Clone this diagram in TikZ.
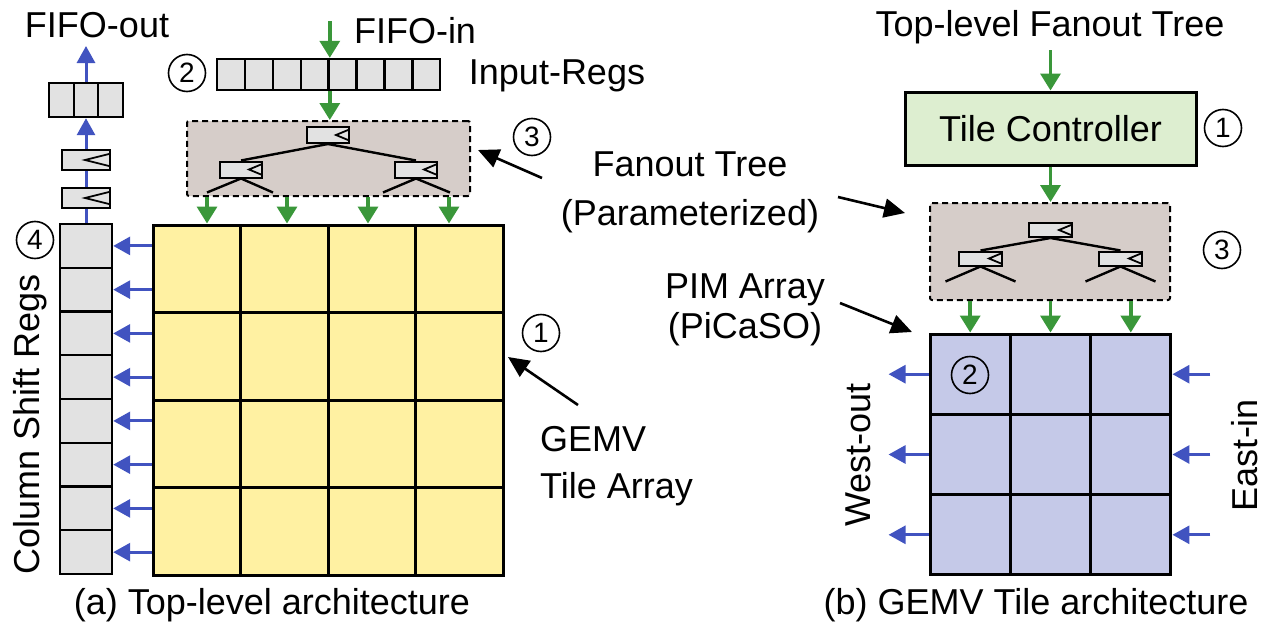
\documentclass[tikz,border=0pt]{standalone}
\usepackage{fontspec}
\setmainfont{Liberation Sans}
\usetikzlibrary{arrows.meta,calc}

\definecolor{tileyellow}{HTML}{FFF1A2}
\definecolor{reggray}{HTML}{E2E2E2}
\definecolor{fanbrown}{HTML}{D6CDC9}
\definecolor{sigGreen}{HTML}{3A973A}
\definecolor{sigBlue}{HTML}{4153C0}
\definecolor{pimblue}{HTML}{C5C9E8}
\definecolor{ctrlgreen}{HTML}{DDEED0}

\tikzset{
  lbl/.style={font=\fontsize{36}{43}\selectfont, inner sep=0pt},
  num/.style={circle, draw, line width=1.6pt, minimum size=37pt, inner sep=0pt,
    font=\fontsize{28}{28}\selectfont},
  reg/.style={draw=black, line width=2.4pt, fill=reggray, inner sep=0pt},
  flop/.style n args={4}{reg, line width=2pt, minimum width=#1, minimum height=#2,
    path picture={\draw[line width=1.8pt]
      ([xshift=-1pt,yshift=#4]path picture bounding box.east) --
      ([xshift=-#3]path picture bounding box.east) --
      ([xshift=-1pt,yshift=-#4]path picture bounding box.east);}},
  fanbox/.style={draw, dash pattern=on 6pt off 4pt, line width=2pt, fill=fanbrown,
    rounded corners=2pt, inner sep=0pt},
  tcell/.style={draw, line width=3pt, fill=tileyellow, minimum size=87.5pt, inner sep=0pt},
  pcell/.style={draw, line width=3pt, fill=pimblue, minimum size=80.3pt, inner sep=0pt},
  wire/.style={line width=2.4pt},
  garrow/.style={draw=sigGreen, line width=3.5pt, -{Triangle[length=17pt,width=20pt]}},
  bline/.style={draw=sigBlue, line width=3pt},
  barrow/.style={bline, -{Triangle[length=17pt,width=18pt]}},
  karrow/.style={draw=black, line width=2.6pt, -{Triangle[length=21pt,width=19pt]}},
}

\begin{document}
\begin{tikzpicture}[x=1pt, y=-1pt]
\useasboundingbox (0,0) rectangle (1264,624);

%% ---------------- (a) top-level architecture ----------------
% GEMV tile array
\foreach \i in {0,...,3}
  \foreach \j in {0,...,3}
    \node[tcell] (t\i\j) at (196.75+87.5*\i, 268.75+87.5*\j) {};

% column shift registers
\foreach \k in {1,...,8}
  \node[reg, minimum width=52pt, minimum height=43.75pt] (c\k) at (86, 245.9+43.75*\k-43.75) {};
\node[num] (n4) at (35,240) {4};
\node[lbl, rotate=90] (colLbl) at (30,424) {Column Shift Regs};

% outputs of the tile rows shift into the column registers
\foreach \k in {1,...,8}
  \draw[barrow] (t00.west |- c\k.east) -- (c\k.east);

% output pipeline flops and FIFO-out register
\node[flop={48pt}{20pt}{25pt}{6pt}] (fl2) at (86,198) {};
\node[flop={48pt}{20pt}{25pt}{6pt}] (fl1) at (86,160) {};
\foreach \k in {1,2,3}
  \node[reg, minimum width=24.5pt, minimum height=34pt] (fo\k) at (37+24.5*\k, 100) {};
\node[lbl] (fifoOut) at (97,25) {FIFO-out};
\coordinate (foTip) at (86,46);
\draw[bline] (c1.north) -- (fl2.south);
\draw[bline] (fl2.north) -- (fl1.south);
\draw[barrow] (fl1.north) -- (fo2.south);
\draw[barrow] (fo2.north) -- (foTip);

% input registers
\foreach \k in {1,...,8}
  \node[reg, minimum width=27.9pt, minimum height=31pt] (in\k) at (217+27.9*\k-13.95, 74.5) {};
\node[num] (n2a) at (187,73) {2};
\node[lbl] (inLbl) at (557,76) {Input-Regs};
\node[lbl] (fifoIn) at (415,31) {FIFO-in};
\coordinate (finTop) at (in4.north east |- 0,21);
\draw[garrow] (finTop) -- (in4.north east);

% fanout tree
\node[fanbox, minimum width=283pt, minimum height=75pt] (fanL) at (328.5,158.5) {};
\draw[garrow] (in4.south east) -- (in4.south east |- fanL.north);
\node[flop={42pt}{16pt}{13pt}{5pt}] (ftT) at (328,135) {};
\node[flop={42pt}{16pt}{13pt}{5pt}] (ftL) at (241,169.5) {};
\node[flop={42pt}{16pt}{13pt}{5pt}] (ftR) at (416,169.5) {};
\draw[wire] (ftT.south) -- (ftL.north);
\draw[wire] (ftT.south) -- (ftR.north);
\draw[wire] (ftL.south) -- ++(-34,14);
\draw[wire] (ftL.south) -- ++(32,14);
\draw[wire] (ftR.south) -- ++(-33,14);
\draw[wire] (ftR.south) -- ++(34,14);
\foreach \x [count=\n] in {207,287,368,449} {
  \coordinate (g\n) at (\x,0);
  \draw[garrow] (g\n |- fanL.south) -- (g\n |- t00.north);
}

% annotations
\node[num] (n3a) at (532,137) {3};
\coordinate (ftFrom) at (542,178);
\coordinate (ftTo) at (478,150);
\draw[karrow] (ftFrom) -- (ftTo);
\node[num] (n1a) at (541,333) {1};
\coordinate (taFrom) at (578,405);
\coordinate (taTo) at (508,357);
\draw[karrow] (taFrom) -- (taTo);
\node[lbl, align=left, anchor=west, font=\fontsize{36}{47}\selectfont] (taLbl) at (540,466) {GEMV\\Tile Array};
\node[lbl] (capA) at (272,605) {(a) Top-level architecture};

%% ---------------- middle labels ----------------
\node[lbl, align=center, font=\fontsize{36}{49}\selectfont] (fanLbl) at (690,192) {Fanout Tree\\(Parameterized)};
\node[lbl, align=center, font=\fontsize{36}{40}\selectfont] (pimLbl) at (745,310) {PIM Array\\(PiCaSO)};

%% ---------------- (b) GEMV tile architecture ----------------
\node[lbl] (topFan) at (1050,27) {Top-level Fanout Tree};
\node[draw, line width=3pt, fill=ctrlgreen, minimum width=291pt, minimum height=73pt,
  inner sep=0pt, font=\fontsize{36}{43}\selectfont] (ctrl) at (1050.5,128.5) {Tile Controller};
\node[num] (n1b) at (1223,128) {1};
\coordinate (tfTop) at (ctrl.north |- 0,50);
\draw[garrow] (tfTop) -- (ctrl.north);

\node[fanbox, minimum width=240pt, minimum height=97pt] (fanR) at (1050,251.5) {};
\draw[garrow] (ctrl.south) -- (ctrl.south |- fanR.north);
\node[flop={43pt}{14pt}{13pt}{5pt}] (frT) at (1050.5,230) {};
\node[flop={43pt}{14pt}{13pt}{5pt}] (frL) at (980.5,258.5) {};
\node[flop={43pt}{14pt}{13pt}{5pt}] (frR) at (1120.5,258.5) {};
\draw[wire] (frT.south) -- (frL.north);
\draw[wire] (frT.south) -- (frR.north);
\draw[wire] (frL.south) -- ++(-35,15);
\draw[wire] (frL.south) -- ++(35,15);
\draw[wire] (frR.south) -- ++(-35,15);
\draw[wire] (frR.south) -- ++(35,15);
\node[num] (n3b) at (1222,250) {3};

% PIM array
\foreach \i in {0,1,2}
  \foreach \j in {0,1,2}
    \node[pcell] (p\i\j) at (970.2+80.3*\i, 374.2+80.3*\j) {};
\foreach \i in {0,1,2}
  \draw[garrow] (p\i0.north |- fanR.south) -- (p\i0.north);
\node[num] (n2b) at (970,375) {2};
\foreach \j in {0,1,2} {
  \draw[barrow] (p0\j.west) -- ++(-40,0);
  \coordinate (ein\j) at ($(p2\j.east)+(38,0)$);
  \draw[barrow] (ein\j) -- (p2\j.east);
}
\node[lbl, rotate=90] (westLbl) at (858,455) {West-out};
\node[lbl, rotate=90] (eastLbl) at (1245,455) {East-in};

% pointers to the tile parts
\coordinate (fpFrom) at (838,197);
\coordinate (fpTo) at (905,213);
\draw[karrow] (fpFrom) -- (fpTo);
\coordinate (ppFrom) at (840,303);
\coordinate (ppTo) at (912,332);
\draw[karrow] (ppFrom) -- (ppTo);

\node[lbl] (capB) at (1036,605) {(b) GEMV Tile architecture};
\end{tikzpicture}
\end{document}
